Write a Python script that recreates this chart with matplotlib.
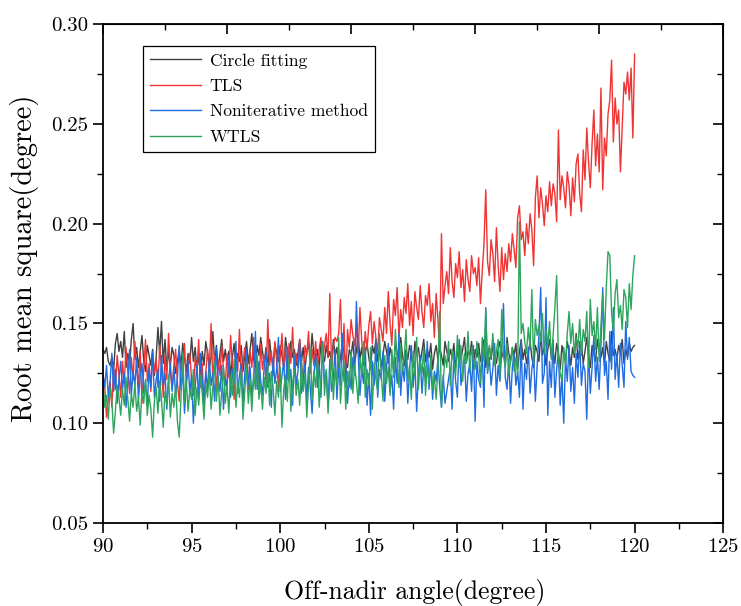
import numpy as np
import matplotlib
matplotlib.use("Agg")
import matplotlib.pyplot as plt
from matplotlib.ticker import MultipleLocator, FormatStrFormatter

plt.rcParams["font.family"] = "cmr10"
plt.rcParams["axes.formatter.use_mathtext"] = True

# off-nadir angle, 90..120 deg in 0.1 deg steps
angles = np.linspace(90, 120, 301)

circle_fitting = [
    0.137, 0.135, 0.138, 0.131, 0.129, 0.133, 0.127, 0.140, 0.145, 0.136,
    0.141, 0.133, 0.146, 0.128, 0.135, 0.130, 0.142, 0.150, 0.132, 0.138,
    0.128, 0.136, 0.144, 0.131, 0.126, 0.139, 0.134, 0.129, 0.137, 0.124,
    0.133, 0.148, 0.135, 0.151, 0.130, 0.142, 0.127, 0.136, 0.129, 0.138,
    0.134, 0.125, 0.131, 0.137, 0.128, 0.140, 0.133, 0.126, 0.135, 0.130,
    0.143, 0.131, 0.138, 0.127, 0.134, 0.124, 0.136, 0.129, 0.141, 0.135,
    0.128, 0.133, 0.146, 0.130, 0.139, 0.127, 0.135, 0.142, 0.131, 0.137,
    0.129, 0.136, 0.124, 0.133, 0.140, 0.128, 0.135, 0.131, 0.139, 0.126,
    0.134, 0.141, 0.130, 0.137, 0.145, 0.132, 0.128, 0.139, 0.134, 0.143,
    0.136, 0.130, 0.138, 0.127, 0.142, 0.133, 0.129, 0.140, 0.135, 0.131,
    0.139, 0.134, 0.128, 0.143, 0.136, 0.130, 0.141, 0.133, 0.137, 0.129,
    0.135, 0.142, 0.131, 0.138, 0.127, 0.136, 0.140, 0.132, 0.145, 0.134,
    0.130, 0.137, 0.128, 0.141, 0.135, 0.131, 0.139, 0.133, 0.136, 0.129,
    0.142, 0.134, 0.138, 0.127, 0.133, 0.140, 0.136, 0.131, 0.128, 0.137,
    0.134, 0.141, 0.130, 0.136, 0.144, 0.132, 0.138, 0.129, 0.135, 0.140,
    0.133, 0.127, 0.139, 0.135, 0.142, 0.131, 0.137, 0.128, 0.134, 0.141,
    0.136, 0.130, 0.138, 0.133, 0.127, 0.140, 0.135, 0.131, 0.143, 0.134,
    0.129, 0.137, 0.132, 0.139, 0.135, 0.128, 0.141, 0.134, 0.138, 0.130,
    0.136, 0.142, 0.131, 0.137, 0.133, 0.140, 0.127, 0.135, 0.139, 0.132,
    0.138, 0.134, 0.129, 0.141, 0.136, 0.131, 0.137, 0.133, 0.140, 0.128,
    0.135, 0.139, 0.132, 0.137, 0.143, 0.130, 0.136, 0.134, 0.141, 0.129,
    0.137, 0.133, 0.140, 0.131, 0.136, 0.142, 0.128, 0.135, 0.138, 0.132,
    0.139, 0.134, 0.130, 0.137, 0.141, 0.133, 0.136, 0.129, 0.143, 0.135,
    0.131, 0.138, 0.134, 0.140, 0.127, 0.136, 0.142, 0.132, 0.137, 0.130,
    0.135, 0.141, 0.133, 0.128, 0.139, 0.136, 0.131, 0.144, 0.134, 0.138,
    0.129, 0.137, 0.142, 0.133, 0.136, 0.130, 0.140, 0.135, 0.127, 0.139,
    0.134, 0.131, 0.141, 0.136, 0.129, 0.138, 0.133, 0.145, 0.132, 0.137,
    0.140, 0.130, 0.136, 0.143, 0.134, 0.128, 0.139, 0.135, 0.131, 0.142,
    0.136, 0.133, 0.138, 0.129, 0.141, 0.135, 0.131, 0.146, 0.134, 0.137,
    0.132, 0.139, 0.135, 0.142, 0.130, 0.137, 0.133, 0.140, 0.136, 0.138,
    0.139,
]

tls = [
    0.125, 0.118, 0.103, 0.112, 0.121, 0.108, 0.129, 0.117, 0.134, 0.124,
    0.113, 0.131, 0.120, 0.138, 0.126, 0.115, 0.133, 0.122, 0.141, 0.128,
    0.119, 0.136, 0.110, 0.127, 0.142, 0.121, 0.130, 0.116, 0.135, 0.125,
    0.132, 0.118, 0.139, 0.127, 0.113, 0.134, 0.122, 0.145, 0.126, 0.117,
    0.129, 0.137, 0.120, 0.111, 0.131, 0.124, 0.140, 0.119, 0.128, 0.135,
    0.122, 0.114, 0.133, 0.126, 0.142, 0.118, 0.130, 0.109, 0.125, 0.137,
    0.128, 0.150, 0.121, 0.134, 0.116, 0.131, 0.124, 0.139, 0.127, 0.119,
    0.135, 0.123, 0.144, 0.129, 0.112, 0.133, 0.126, 0.147, 0.121, 0.130,
    0.138, 0.125, 0.117, 0.136, 0.128, 0.143, 0.122, 0.131, 0.115, 0.140,
    0.127, 0.134, 0.120, 0.152, 0.129, 0.136, 0.124, 0.141, 0.131, 0.118,
    0.133, 0.145, 0.127, 0.138, 0.122, 0.140, 0.130, 0.148, 0.126, 0.135,
    0.128, 0.142, 0.131, 0.120, 0.139, 0.134, 0.146, 0.125, 0.137, 0.129,
    0.141, 0.128, 0.137, 0.143, 0.131, 0.139, 0.145, 0.133, 0.165, 0.127,
    0.139, 0.143, 0.141, 0.145, 0.162, 0.132, 0.150, 0.118, 0.147, 0.138,
    0.152, 0.144, 0.139, 0.148, 0.135, 0.158, 0.141, 0.131, 0.146, 0.137,
    0.149, 0.156, 0.140, 0.151, 0.143, 0.135, 0.153, 0.147, 0.141, 0.158,
    0.145, 0.166, 0.150, 0.139, 0.162, 0.154, 0.168, 0.143, 0.157, 0.148,
    0.163, 0.155, 0.170, 0.149, 0.161, 0.144, 0.166, 0.158, 0.152, 0.169,
    0.156, 0.148, 0.164, 0.159, 0.170, 0.151, 0.160, 0.143, 0.165, 0.152,
    0.137, 0.195, 0.160, 0.169, 0.176, 0.165, 0.188, 0.171, 0.163, 0.180,
    0.173, 0.186, 0.168, 0.177, 0.161, 0.182, 0.172, 0.166, 0.184, 0.175,
    0.178, 0.169, 0.183, 0.160, 0.176, 0.190, 0.217, 0.181, 0.174, 0.192,
    0.185, 0.171, 0.198, 0.179, 0.166, 0.188, 0.172, 0.185, 0.176, 0.190,
    0.181, 0.195, 0.187, 0.178, 0.203, 0.209, 0.192, 0.196, 0.184, 0.200,
    0.190, 0.205, 0.197, 0.179, 0.213, 0.224, 0.203, 0.218, 0.210, 0.199,
    0.214, 0.206, 0.221, 0.209, 0.220, 0.215, 0.201, 0.247, 0.212, 0.224,
    0.218, 0.208, 0.226, 0.219, 0.204, 0.223, 0.211, 0.230, 0.235, 0.215,
    0.206, 0.237, 0.222, 0.248, 0.231, 0.218, 0.240, 0.257, 0.229, 0.245,
    0.226, 0.268, 0.217, 0.243, 0.234, 0.255, 0.262, 0.282, 0.241, 0.263,
    0.250, 0.257, 0.226, 0.249, 0.271, 0.265, 0.276, 0.262, 0.278, 0.243,
    0.285,
]

noniterative = [
    0.124, 0.118, 0.129, 0.113, 0.121, 0.135, 0.116, 0.127, 0.110, 0.122,
    0.131, 0.117, 0.125, 0.108, 0.120, 0.137, 0.114, 0.126, 0.119, 0.133,
    0.112, 0.124, 0.130, 0.115, 0.121, 0.109, 0.128, 0.118, 0.136, 0.113,
    0.122, 0.127, 0.111, 0.134, 0.119, 0.125, 0.107, 0.121, 0.130, 0.116,
    0.128, 0.114, 0.123, 0.139, 0.117, 0.126, 0.105, 0.120, 0.131, 0.115,
    0.124, 0.100, 0.118, 0.129, 0.112, 0.135, 0.121, 0.109, 0.126, 0.117,
    0.132, 0.119, 0.125, 0.111, 0.138, 0.122, 0.116, 0.129, 0.107, 0.123,
    0.118, 0.134, 0.113, 0.127, 0.120, 0.141, 0.115, 0.124, 0.130, 0.110,
    0.125, 0.137, 0.119, 0.128, 0.113, 0.122, 0.146, 0.117, 0.131, 0.121,
    0.114, 0.129, 0.136, 0.118, 0.125, 0.108, 0.133, 0.120, 0.127, 0.143,
    0.116, 0.124, 0.131, 0.112, 0.138, 0.121, 0.127, 0.109, 0.134, 0.119,
    0.126, 0.140, 0.115, 0.122, 0.130, 0.111, 0.128, 0.117, 0.105, 0.124,
    0.135, 0.118, 0.129, 0.113, 0.141, 0.120, 0.126, 0.108, 0.132, 0.116,
    0.123, 0.137, 0.112, 0.128, 0.119, 0.145, 0.121, 0.130, 0.110, 0.126,
    0.117, 0.133, 0.124, 0.161, 0.135, 0.114, 0.128, 0.120, 0.138, 0.109,
    0.125, 0.104, 0.131, 0.119, 0.142, 0.113, 0.127, 0.122, 0.136, 0.111,
    0.128, 0.140, 0.116, 0.124, 0.107, 0.133, 0.120, 0.145, 0.114, 0.129,
    0.121, 0.136, 0.110, 0.127, 0.139, 0.118, 0.131, 0.106, 0.125, 0.134,
    0.115, 0.128, 0.122, 0.141, 0.117, 0.130, 0.112, 0.126, 0.121, 0.132,
    0.118, 0.108, 0.124, 0.110, 0.116, 0.122, 0.128, 0.107, 0.135, 0.121,
    0.113, 0.142, 0.119, 0.127, 0.134, 0.111, 0.125, 0.130, 0.116, 0.139,
    0.101, 0.131, 0.122, 0.118, 0.137, 0.108, 0.158, 0.125, 0.133, 0.119,
    0.127, 0.140, 0.114, 0.129, 0.121, 0.136, 0.160, 0.123, 0.117, 0.132,
    0.110, 0.128, 0.135, 0.119, 0.126, 0.113, 0.141, 0.107, 0.130, 0.122,
    0.138, 0.115, 0.127, 0.134, 0.111, 0.129, 0.144, 0.168, 0.120, 0.125,
    0.163, 0.104, 0.131, 0.118, 0.142, 0.113, 0.127, 0.136, 0.109, 0.124,
    0.100, 0.133, 0.121, 0.139, 0.116, 0.128, 0.110, 0.135, 0.123, 0.141,
    0.119, 0.130, 0.126, 0.102, 0.137, 0.115, 0.128, 0.144, 0.121, 0.133,
    0.117, 0.139, 0.168, 0.124, 0.131, 0.112, 0.146, 0.127, 0.158, 0.122,
    0.135, 0.118, 0.140, 0.129, 0.118, 0.151, 0.132, 0.143, 0.126, 0.124,
    0.123,
]

wtls = [
    0.121, 0.108, 0.114, 0.102, 0.118, 0.111, 0.095, 0.106, 0.119, 0.113,
    0.104, 0.117, 0.109, 0.123, 0.112, 0.101, 0.115, 0.108, 0.120, 0.106,
    0.113, 0.099, 0.117, 0.110, 0.122, 0.104, 0.114, 0.107, 0.093, 0.111,
    0.118, 0.105, 0.121, 0.112, 0.098, 0.116, 0.109, 0.124, 0.103, 0.115,
    0.108, 0.119, 0.101, 0.093, 0.113, 0.135, 0.110, 0.122, 0.106, 0.117,
    0.112, 0.127, 0.104, 0.118, 0.109, 0.124, 0.115, 0.102, 0.120, 0.113,
    0.126, 0.107, 0.118, 0.131, 0.111, 0.123, 0.104, 0.116, 0.128, 0.110,
    0.119, 0.105, 0.124, 0.114, 0.132, 0.108, 0.121, 0.113, 0.127, 0.102,
    0.116, 0.129, 0.110, 0.122, 0.106, 0.125, 0.117, 0.134, 0.112, 0.120,
    0.107, 0.123, 0.115, 0.130, 0.109, 0.126, 0.118, 0.104, 0.121, 0.113,
    0.128, 0.098, 0.117, 0.124, 0.111, 0.133, 0.106, 0.120, 0.127, 0.114,
    0.122, 0.109, 0.131, 0.116, 0.125, 0.103, 0.119, 0.137, 0.112, 0.126,
    0.118, 0.132, 0.108, 0.123, 0.140, 0.114, 0.127, 0.105, 0.121, 0.135,
    0.112, 0.128, 0.119, 0.143, 0.110, 0.124, 0.131, 0.107, 0.126, 0.118,
    0.136, 0.115, 0.129, 0.121, 0.110, 0.133, 0.124, 0.141, 0.113, 0.127,
    0.119, 0.138, 0.107, 0.130, 0.122, 0.116, 0.145, 0.125, 0.111, 0.134,
    0.120, 0.128, 0.114, 0.137, 0.123, 0.147, 0.131, 0.118, 0.140, 0.126,
    0.133, 0.147, 0.121, 0.129, 0.112, 0.136, 0.124, 0.143, 0.117, 0.131,
    0.125, 0.138, 0.114, 0.129, 0.120, 0.134, 0.117, 0.123, 0.112, 0.127,
    0.156, 0.108, 0.121, 0.134, 0.128, 0.141, 0.119, 0.137, 0.130, 0.124,
    0.144, 0.128, 0.139, 0.121, 0.135, 0.130, 0.146, 0.125, 0.138, 0.132,
    0.127, 0.141, 0.134, 0.120, 0.143, 0.131, 0.157, 0.126, 0.139, 0.133,
    0.145, 0.129, 0.136, 0.142, 0.123, 0.157, 0.134, 0.128, 0.140, 0.124,
    0.131, 0.138, 0.126, 0.133, 0.124, 0.201, 0.145, 0.150, 0.141, 0.135,
    0.148, 0.138, 0.167, 0.130, 0.152, 0.144, 0.149, 0.141, 0.155, 0.135,
    0.147, 0.139, 0.151, 0.132, 0.144, 0.158, 0.174, 0.133, 0.125, 0.121,
    0.138, 0.129, 0.145, 0.156, 0.140, 0.150, 0.135, 0.143, 0.138, 0.152,
    0.134, 0.147, 0.141, 0.156, 0.128, 0.162, 0.144, 0.151, 0.137, 0.158,
    0.131, 0.149, 0.165, 0.142, 0.168, 0.186, 0.184, 0.155, 0.146, 0.165,
    0.172, 0.153, 0.159, 0.147, 0.167, 0.163, 0.148, 0.170, 0.157, 0.174,
    0.184,
]

fig = plt.figure(figsize=(7.41, 6.06), dpi=100)
ax = fig.add_axes([0.139, 0.137, 0.837, 0.823])

ax.plot(angles, circle_fitting, color="#404040", lw=1.0, label="Circle fitting")
ax.plot(angles, tls, color="#f03434", lw=1.0, label="TLS")
ax.plot(angles, noniterative, color="#1f6de0", lw=1.0, label="Noniterative method")
ax.plot(angles, wtls, color="#2ea55e", lw=1.0, label="WTLS")

ax.set_xlim(90, 125)
ax.set_ylim(0.05, 0.30)
ax.xaxis.set_major_locator(MultipleLocator(5))
ax.xaxis.set_minor_locator(MultipleLocator(2.5))
ax.yaxis.set_major_locator(MultipleLocator(0.05))
ax.yaxis.set_minor_locator(MultipleLocator(0.025))
ax.yaxis.set_major_formatter(FormatStrFormatter("%.2f"))
ax.tick_params(which="major", direction="out", length=7, width=1.2, labelsize=15)
ax.tick_params(which="minor", direction="out", length=4, width=1.0)
for side in ["left", "right", "top", "bottom"]:
    ax.spines[side].set_linewidth(1.3)

# right axis ticks point inward, like the original
ax_r = ax.secondary_yaxis("right")
ax_r.yaxis.set_major_locator(MultipleLocator(0.05))
ax_r.yaxis.set_minor_locator(MultipleLocator(0.025))
ax_r.tick_params(which="major", direction="in", length=7, width=1.2, labelright=False)
ax_r.tick_params(which="minor", direction="in", length=4, width=1.0)

# top axis uses its own 7-degree ticks
ax_t = ax.secondary_xaxis("top")
ax_t.set_xticks(np.arange(90, 126, 7))
ax_t.set_xticks(np.arange(93.5, 125, 7), minor=True)
ax_t.tick_params(which="major", direction="in", length=7, width=1.2, labeltop=False)
ax_t.tick_params(which="minor", direction="in", length=4, width=1.0)

ax.set_xlabel("Off-nadir angle(degree)", fontsize=18.5)
ax.set_ylabel("Root mean square(degree)", fontsize=20.5)
ax.xaxis.set_label_coords(0.503, -0.112)
ax.yaxis.set_label_coords(-0.103, 0.531)

leg = ax.legend(loc="upper left", bbox_to_anchor=(0.0645, 0.956), borderaxespad=0,
                fontsize=12.6, frameon=True, fancybox=False, framealpha=1,
                edgecolor="black", handlelength=2.9, handletextpad=0.5,
                labelspacing=0.58, borderpad=0.4)
leg.get_frame().set_linewidth(0.9)

fig.savefig("out.png", dpi=100)
